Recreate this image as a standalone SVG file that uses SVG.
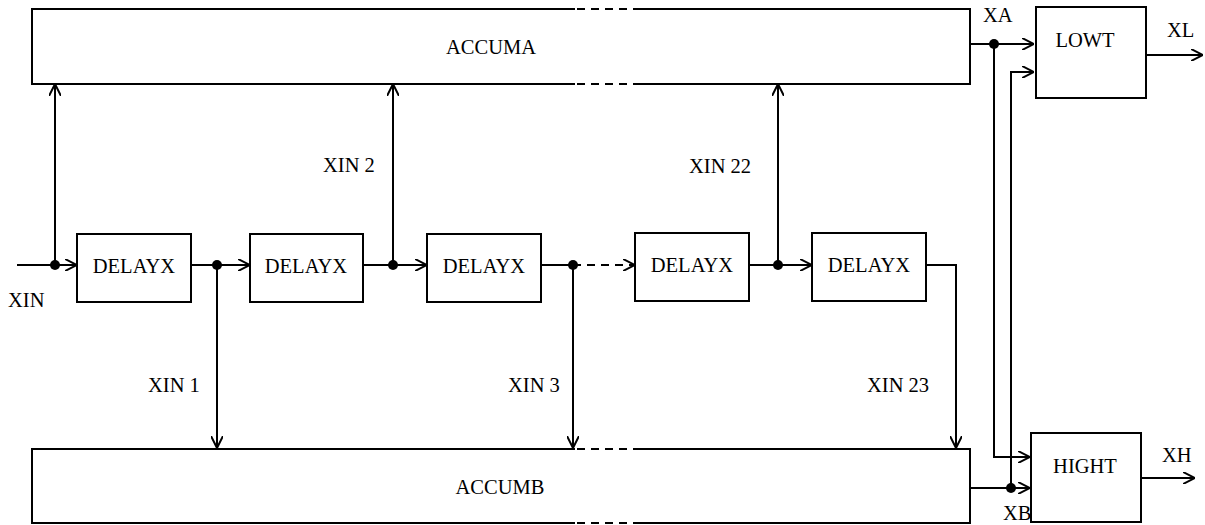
<svg xmlns="http://www.w3.org/2000/svg" width="1205" height="525" viewBox="0 0 1205 525">
  <style>
    .box { fill: #fff; stroke: #000; stroke-width: 2; }
    .edge { fill: none; stroke: #000; stroke-width: 2; }
    .brk { fill: none; stroke: #000; stroke-width: 2; stroke-dasharray: 8 6; }
    .wire { fill: none; stroke: #000; stroke-width: 2; }
    .dash { fill: none; stroke: #000; stroke-width: 2; stroke-dasharray: 8 6; }
    .dot { fill: #000; }
    .lbl { font-family: "Liberation Serif", "Times New Roman", serif; font-size: 20.5px; fill: #000; }
    .mid { text-anchor: middle; }
  </style>
  <defs>
    <marker id="arr" viewBox="0 0 12 12" refX="12" refY="6" markerWidth="12" markerHeight="12" markerUnits="userSpaceOnUse" orient="auto">
      <path d="M0,0 L12,6 L0,12" fill="none" stroke="#000" stroke-width="2"/>
    </marker>
  </defs>

  <!-- accumulator A, edges broken by a dashed section -->
  <g id="accuma">
    <rect x="32" y="9" width="938" height="75" fill="#fff" stroke="none"/>
    <path class="edge" d="M575,9 H32 V84 H575 M633,9 H970 V84 H633"/>
    <path class="brk" d="M577,9 H633 M577,84 H633"/>
    <text class="lbl mid" x="491" y="54">ACCUMA</text>
  </g>

  <!-- accumulator B -->
  <g id="accumb">
    <rect x="32" y="449" width="938" height="74" fill="#fff" stroke="none"/>
    <path class="edge" d="M575,449 H32 V523 H575 M633,449 H970 V523 H633"/>
    <path class="brk" d="M577,449 H633 M577,523 H633"/>
    <text class="lbl mid" x="500" y="494">ACCUMB</text>
  </g>

  <!-- delay chain -->
  <g id="delay1">
    <rect class="box" x="77" y="234" width="114" height="68"/>
    <text class="lbl mid" x="134" y="273">DELAYX</text>
  </g>
  <g id="delay2">
    <rect class="box" x="250" y="234" width="113" height="68"/>
    <text class="lbl mid" x="306" y="273">DELAYX</text>
  </g>
  <g id="delay3">
    <rect class="box" x="427" y="234" width="114" height="68"/>
    <text class="lbl mid" x="484" y="273">DELAYX</text>
  </g>
  <g id="delay4">
    <rect class="box" x="635" y="233" width="114" height="68"/>
    <text class="lbl mid" x="692" y="272">DELAYX</text>
  </g>
  <g id="delay5">
    <rect class="box" x="812" y="233" width="114" height="68"/>
    <text class="lbl mid" x="869" y="272">DELAYX</text>
  </g>

  <!-- output filters -->
  <g id="lowt">
    <rect class="box" x="1036" y="7" width="110" height="91"/>
    <text class="lbl mid" x="1085" y="47">LOWT</text>
  </g>
  <g id="hight">
    <rect class="box" x="1031" y="433" width="110" height="89"/>
    <text class="lbl mid" x="1085" y="473">HIGHT</text>
  </g>

  <g id="connectors">
    <!-- input and chain links -->
    <path class="wire" d="M17,265 H77" marker-end="url(#arr)"/>
    <path class="wire" d="M55,265 V84" marker-end="url(#arr)"/>
    <path class="wire" d="M191,265 H250" marker-end="url(#arr)"/>
    <path class="wire" d="M217,265 V448" marker-end="url(#arr)"/>
    <path class="wire" d="M363,265 H427" marker-end="url(#arr)"/>
    <path class="wire" d="M393,265 V84" marker-end="url(#arr)"/>
    <path class="wire" d="M541,265 H573"/>
    <path class="dash" d="M573,265 H635" marker-end="url(#arr)"/>
    <path class="wire" d="M573,265 V448" marker-end="url(#arr)"/>
    <path class="wire" d="M749,265 H812" marker-end="url(#arr)"/>
    <path class="wire" d="M778,265 V84" marker-end="url(#arr)"/>
    <path class="wire" d="M926,265 H956 V448" marker-end="url(#arr)"/>

    <!-- accumulator outputs to filters -->
    <path class="wire" d="M970,44 H1034" marker-end="url(#arr)"/>
    <path class="wire" d="M994,44 V457 H1030" marker-end="url(#arr)"/>
    <path class="wire" d="M970,488 H1030" marker-end="url(#arr)"/>
    <path class="wire" d="M1011,488 V72 H1034" marker-end="url(#arr)"/>
    <path class="wire" d="M1146,55 H1203" marker-end="url(#arr)"/>
    <path class="wire" d="M1141,478 H1195" marker-end="url(#arr)"/>

    <!-- junctions -->
    <circle class="dot" cx="55" cy="265" r="5"/>
    <circle class="dot" cx="217" cy="265" r="5"/>
    <circle class="dot" cx="393" cy="265" r="5"/>
    <circle class="dot" cx="573" cy="265" r="5"/>
    <circle class="dot" cx="778" cy="265" r="5"/>
    <circle class="dot" cx="994" cy="44" r="5"/>
    <circle class="dot" cx="1011" cy="488" r="5"/>
  </g>

  <!-- signal labels -->
  <g id="labels">
    <text class="lbl" x="8" y="307">XIN</text>
    <text class="lbl" x="148" y="392">XIN 1</text>
    <text class="lbl" x="323" y="172">XIN 2</text>
    <text class="lbl" x="508" y="392">XIN 3</text>
    <text class="lbl" x="689" y="173">XIN 22</text>
    <text class="lbl" x="867" y="392">XIN 23</text>
    <text class="lbl" x="983" y="22">XA</text>
    <text class="lbl" x="1003" y="520">XB</text>
    <text class="lbl" x="1167" y="37">XL</text>
    <text class="lbl" x="1162" y="462">XH</text>
  </g>
</svg>
